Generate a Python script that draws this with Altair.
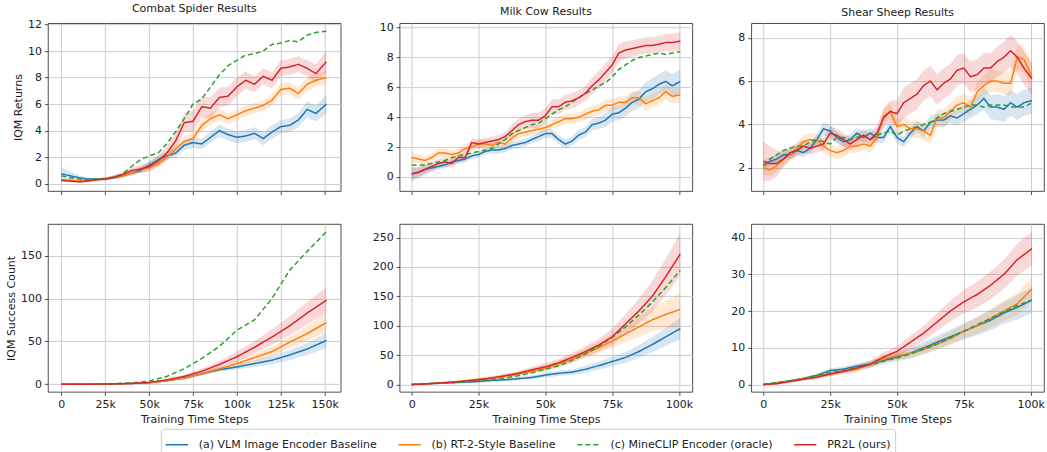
import altair as alt
import pandas as pd

SERIES = ["(a) VLM Image Encoder Baseline", "(b) RT-2-Style Baseline",
          "(c) MineCLIP Encoder (oracle)", "PR2L (ours)"]
COLORS = ["#1f77b4", "#ff7f0e", "#2ca02c", "#d62728"]
DASHES = [[1, 0], [1, 0], [5, 3], [1, 0]]

# ---------------- Combat Spider: returns ----------------
cs_ret_x = [0, 5, 10, 15, 20, 25, 30, 35, 40, 45, 50, 55, 60, 65, 70, 75, 80, 85, 90, 95,
            100, 105, 110, 115, 120, 125, 130, 135, 140, 145, 151]
cs_ret_blue = [0.75, 0.6, 0.45, 0.35, 0.35, 0.35, 0.45, 0.6, 0.8, 1.0, 1.4, 1.8, 2.1, 2.3, 2.9, 3.1,
               3.0, 3.5, 4.0, 3.7, 3.5, 3.6, 3.8, 3.4, 3.9, 4.3, 4.4, 4.8, 5.6, 5.3, 6.0]
cs_ret_orange = [0.3, 0.25, 0.2, 0.25, 0.3, 0.4, 0.5, 0.6, 0.8, 1.1, 1.2, 1.5, 2.0, 2.6, 3.2, 3.4,
                 4.4, 4.9, 5.2, 4.9, 5.2, 5.5, 5.7, 5.9, 6.3, 7.1, 7.2, 6.8, 7.5, 7.8, 8.0]
cs_ret_green = [0.6, 0.45, 0.35, 0.3, 0.35, 0.4, 0.5, 0.75, 1.3, 1.8, 2.1, 2.3, 3.0, 3.9, 4.9, 6.0,
                6.4, 7.3, 8.2, 8.9, 9.3, 9.7, 9.8, 10.0, 10.5, 10.6, 10.8, 10.7, 11.2, 11.4, 11.5]
cs_ret_red = [0.25, 0.2, 0.15, 0.2, 0.3, 0.35, 0.5, 0.7, 1.0, 1.1, 1.3, 1.7, 2.3, 3.2, 4.6, 4.7,
              5.8, 5.7, 6.5, 6.6, 7.3, 7.8, 7.5, 8.1, 7.8, 8.7, 8.8, 9.0, 8.7, 8.3, 9.2]
cs_ret_blue_err = [0.5, 0.35, 0.2, 0.1, 0.1, 0.1, 0.1, 0.15, 0.2, 0.2, 0.3, 0.3, 0.3, 0.35, 0.35, 0.4,
                   0.4, 0.45, 0.45, 0.45, 0.45, 0.45, 0.45, 0.5, 0.5, 0.5, 0.5, 0.55, 0.6, 0.6, 0.7]
cs_ret_orange_err = [0.1, 0.1, 0.1, 0.1, 0.1, 0.1, 0.15, 0.15, 0.2, 0.25, 0.25, 0.3, 0.3, 0.35, 0.4, 0.4,
                     0.45, 0.45, 0.45, 0.4, 0.4, 0.4, 0.4, 0.4, 0.45, 0.45, 0.45, 0.5, 0.5, 0.5, 0.5]
cs_ret_red_err = [0.1, 0.1, 0.1, 0.1, 0.1, 0.1, 0.15, 0.2, 0.25, 0.3, 0.35, 0.4, 0.5, 0.6, 0.7, 0.8,
                  0.8, 0.8, 0.75, 0.7, 0.7, 0.65, 0.6, 0.6, 0.6, 0.6, 0.6, 0.6, 0.6, 0.7, 0.8]

# ---------------- Combat Spider: success count ----------------
cs_cnt_x = [0, 10, 20, 30, 40, 50, 60, 70, 80, 90, 100, 110, 120, 130, 140, 151]
cs_cnt_blue = [0, 0, 0, 0.3, 0.8, 1.5, 4, 7, 12, 17, 20, 24, 28, 34, 41, 51]
cs_cnt_orange = [0, 0, 0, 0.3, 0.8, 1.5, 4, 7, 12, 18, 24, 31, 38, 49, 59, 72]
cs_cnt_green = [0, 0, 0, 0.5, 1.5, 3.5, 9, 18, 30, 44, 63, 75, 100, 133, 155, 178]
cs_cnt_red = [0, 0, 0, 0.3, 0.8, 2, 5, 9, 15, 23, 32, 43, 55, 68, 83, 98]
cs_cnt_blue_err = [0, 0, 0, 0.2, 0.3, 0.5, 1, 1.5, 2, 2.5, 3, 4, 5, 6, 7, 9]
cs_cnt_orange_err = [0, 0, 0, 0.2, 0.3, 0.5, 1, 1.5, 2, 3, 4, 5, 6, 7, 9, 11]
cs_cnt_red_err = [0, 0, 0, 0.2, 0.3, 0.6, 1.2, 2, 3, 4, 6, 7, 9, 11, 13, 15]

# ---------------- Milk Cow: returns ----------------
mc_ret_x = [0, 2.5, 5, 7.5, 10, 12.5, 15, 17.5, 20, 22.5, 25, 27.5, 30, 32.5, 35, 37.5, 40, 42.5,
            45, 47.5, 50, 52.5, 55, 57.5, 60, 62.5, 65, 67.5, 70, 72.5, 75, 77.5, 80, 82.5, 85,
            87.5, 90, 92.5, 95, 97.5, 100.5]
mc_ret_blue = [0.2, 0.3, 0.5, 0.6, 0.7, 0.8, 1.0, 1.1, 1.2, 1.4, 1.5, 1.7, 1.8, 1.8, 1.9, 2.1, 2.2,
               2.3, 2.5, 2.7, 2.9, 2.9, 2.5, 2.2, 2.4, 2.8, 3.0, 3.5, 3.6, 3.8, 4.2, 4.3, 4.6, 5.0,
               5.2, 5.7, 5.9, 6.2, 6.4, 6.1, 6.4]
mc_ret_orange = [1.3, 1.2, 1.1, 1.3, 1.6, 1.6, 1.5, 1.6, 1.9, 2.0, 2.2, 2.2, 2.1, 2.3, 2.2, 2.6, 2.9,
                 3.0, 3.1, 3.2, 3.3, 3.5, 3.7, 3.9, 3.9, 4.0, 4.2, 4.4, 4.5, 4.8, 4.8, 5.0, 5.0,
                 5.3, 5.3, 4.9, 5.1, 5.3, 5.7, 5.4, 5.5]
mc_ret_green = [0.8, 0.8, 0.8, 0.9, 1.0, 1.1, 1.3, 1.4, 1.5, 1.6, 1.7, 1.8, 1.9, 2.2, 2.5, 2.9, 3.1,
                3.3, 3.5, 3.6, 3.9, 4.2, 4.5, 4.7, 5.0, 5.3, 5.6, 5.8, 6.1, 6.3, 6.7, 7.2, 7.5,
                7.8, 8.0, 8.1, 8.2, 8.3, 8.2, 8.3, 8.4]
mc_ret_red = [0.2, 0.3, 0.5, 0.7, 0.9, 1.0, 0.9, 1.3, 1.3, 2.3, 2.2, 2.3, 2.4, 2.5, 2.7, 3.1, 3.5,
              3.7, 3.8, 3.8, 4.1, 4.7, 4.7, 5.0, 5.1, 5.3, 5.6, 6.1, 6.5, 7.0, 7.5, 8.3, 8.5, 8.6,
              8.7, 8.8, 8.8, 8.9, 9.0, 9.0, 9.1]
mc_ret_blue_err = [0.4, 0.3, 0.3, 0.2, 0.2, 0.2, 0.2, 0.2, 0.2, 0.2, 0.2, 0.2, 0.25, 0.25, 0.25, 0.25,
                   0.25, 0.25, 0.25, 0.3, 0.3, 0.3, 0.3, 0.3, 0.3, 0.35, 0.35, 0.4, 0.4, 0.45, 0.5,
                   0.5, 0.55, 0.6, 0.6, 0.65, 0.7, 0.7, 0.75, 0.8, 0.8]
mc_ret_orange_err = [0.35, 0.3, 0.3, 0.3, 0.3, 0.3, 0.3, 0.3, 0.3, 0.3, 0.3, 0.3, 0.3, 0.3, 0.3, 0.3,
                     0.3, 0.3, 0.3, 0.3, 0.3, 0.3, 0.35, 0.35, 0.35, 0.35, 0.35, 0.35, 0.4, 0.4, 0.4,
                     0.4, 0.4, 0.45, 0.45, 0.45, 0.45, 0.45, 0.5, 0.5, 0.5]
mc_ret_red_err = [0.5, 0.4, 0.35, 0.3, 0.3, 0.3, 0.3, 0.3, 0.3, 0.3, 0.3, 0.3, 0.3, 0.3, 0.3, 0.4,
                  0.4, 0.45, 0.5, 0.5, 0.5, 0.5, 0.5, 0.5, 0.5, 0.5, 0.5, 0.55, 0.6, 0.6, 0.6, 0.6,
                  0.55, 0.55, 0.55, 0.55, 0.55, 0.55, 0.6, 0.6, 0.6]

# ---------------- Milk Cow: success count ----------------
mc_cnt_x = [0, 5, 10, 15, 20, 25, 30, 35, 40, 45, 50, 55, 60, 65, 70, 75, 80, 85, 90, 95, 100.5]
mc_cnt_blue = [0, 1, 2, 3, 4, 5, 7, 8, 10, 12, 16, 19, 21, 26, 32, 39, 46, 56, 68, 81, 95]
mc_cnt_orange = [0, 1, 2.5, 4, 6, 9, 11, 14, 18, 23, 28, 35, 43, 53, 63, 74, 86, 98, 110, 119, 128]
mc_cnt_green = [0, 1, 2, 3, 4.5, 6, 8, 11, 15, 20, 26, 32, 41, 52, 65, 80, 98, 118, 140, 165, 194]
mc_cnt_red = [0, 1, 2.5, 4, 6, 8, 11, 15, 19, 25, 30, 37, 46, 56, 67, 81, 103, 125, 150, 183, 222]
mc_cnt_blue_err = [0, 0.5, 1, 1, 1.5, 2, 2, 2.5, 3, 3.5, 4, 4.5, 5, 6, 7, 8, 9, 11, 13, 15, 18]
mc_cnt_orange_err = [0, 0.5, 1, 1.5, 2, 2, 3, 3, 4, 4.5, 5, 6, 7, 8, 10, 12, 14, 17, 20, 24, 28]
mc_cnt_red_err = [0, 0.5, 1, 1.5, 2, 2.5, 3, 3.5, 4, 5, 6, 7, 8, 9, 11, 14, 17, 21, 26, 31, 36]

# ---------------- Shear Sheep: returns ----------------
ss_ret_x = mc_ret_x
ss_ret_blue = [2.1, 2.3, 2.4, 2.6, 2.6, 2.8, 2.7, 2.9, 3.3, 3.8, 3.7, 3.4, 3.2, 3.3, 3.6, 3.4, 3.6,
               3.4, 3.4, 3.9, 3.4, 3.2, 3.6, 3.9, 3.7, 4.1, 4.2, 4.2, 4.4, 4.3, 4.5, 4.7, 4.9, 5.2,
               4.8, 4.8, 4.7, 5.0, 4.8, 5.0, 5.1]
ss_ret_orange = [2.0, 1.9, 2.1, 2.4, 2.6, 2.9, 3.2, 3.3, 3.3, 3.0, 2.8, 2.7, 2.8, 3.0, 3.0, 3.1, 3.0,
                 3.4, 4.4, 4.6, 3.9, 4.0, 3.8, 3.8, 3.7, 3.5, 4.3, 4.3, 4.6, 4.9, 5.0, 4.8, 5.5,
                 5.8, 6.0, 6.0, 5.9, 5.9, 7.1, 7.0, 6.2]
ss_ret_green = [2.1, 2.4, 2.6, 2.8, 2.9, 3.0, 3.0, 3.2, 3.3, 3.2, 3.1, 3.4, 3.4, 3.3, 3.4, 3.5, 3.3,
                3.5, 3.6, 3.7, 3.5, 3.7, 3.8, 3.9, 4.0, 4.1, 4.3, 4.5, 4.6, 4.7, 4.8, 4.9, 4.9,
                4.8, 4.9, 4.9, 4.9, 4.8, 4.8, 4.8, 5.0]
ss_ret_red = [2.3, 2.2, 2.2, 2.4, 2.7, 2.8, 3.0, 2.9, 3.0, 3.1, 3.6, 3.5, 3.3, 3.1, 3.3, 3.5, 3.3,
              3.6, 4.3, 4.6, 4.5, 5.0, 5.2, 5.4, 5.8, 6.0, 5.6, 5.9, 6.1, 6.5, 6.6, 6.2, 6.3, 6.6,
              6.6, 6.9, 7.1, 7.4, 7.1, 6.6, 6.1]
ss_ret_blue_err = [0.2, 0.2, 0.2, 0.2, 0.2, 0.2, 0.2, 0.2, 0.25, 0.3, 0.3, 0.25, 0.25, 0.25, 0.25, 0.25,
                   0.25, 0.25, 0.25, 0.25, 0.25, 0.25, 0.25, 0.25, 0.3, 0.3, 0.3, 0.3, 0.35, 0.35,
                   0.4, 0.4, 0.45, 0.5, 0.55, 0.6, 0.6, 0.6, 0.6, 0.6, 0.6]
ss_ret_orange_err = [0.3, 0.3, 0.3, 0.3, 0.3, 0.3, 0.3, 0.3, 0.3, 0.3, 0.3, 0.3, 0.3, 0.3, 0.3, 0.3,
                     0.3, 0.3, 0.35, 0.35, 0.35, 0.35, 0.35, 0.4, 0.4, 0.4, 0.4, 0.4, 0.4, 0.4, 0.4,
                     0.4, 0.45, 0.45, 0.5, 0.5, 0.5, 0.55, 0.6, 0.6, 0.6]
ss_ret_red_err = [0.9, 0.8, 0.6, 0.4, 0.3, 0.3, 0.3, 0.3, 0.3, 0.3, 0.3, 0.3, 0.3, 0.3, 0.3, 0.3,
                  0.3, 0.35, 0.4, 0.5, 0.6, 0.7, 0.7, 0.7, 0.7, 0.7, 0.7, 0.7, 0.7, 0.7, 0.7, 0.7,
                  0.7, 0.7, 0.7, 0.7, 0.7, 0.75, 0.75, 0.75, 0.75]

# ---------------- Shear Sheep: success count ----------------
ss_cnt_x = mc_cnt_x
ss_cnt_blue = [0, 0.5, 1, 1.6, 2.5, 3.8, 4.2, 5, 5.6, 6.5, 7.5, 8.5, 10, 11.5, 13, 14.5, 16, 17.5, 19.5, 21, 23]
ss_cnt_orange = [0, 0.4, 1, 1.6, 2, 3, 3.5, 4.2, 5.5, 7, 7.8, 8.5, 9.5, 11, 12.5, 14.5, 16, 18, 20, 22, 26]
ss_cnt_green = [0, 0.5, 1, 1.6, 2.5, 3.2, 3.8, 4.5, 5.4, 6.3, 7.2, 8.3, 9.6, 11, 12.7, 14.5, 16.3, 18, 19.8, 21.5, 23]
ss_cnt_red = [0, 0.2, 0.8, 1.4, 2, 2.8, 3.6, 4.5, 5.5, 7.5, 9, 11.5, 14, 17, 20, 22.5, 24.5, 27, 30, 34, 37]
ss_cnt_blue_err = [0, 0.2, 0.3, 0.4, 0.5, 0.6, 0.7, 0.8, 0.9, 1, 1.2, 1.4, 1.6, 1.8, 2, 2.2, 2.5, 2.8, 3, 3.3, 3.6]
ss_cnt_orange_err = [0, 0.2, 0.3, 0.4, 0.5, 0.6, 0.7, 0.8, 0.9, 1, 1.1, 1.2, 1.4, 1.6, 1.8, 2, 2.2, 2.5, 2.8, 3, 3.2]
ss_cnt_red_err = [0, 0.2, 0.3, 0.4, 0.5, 0.6, 0.7, 0.8, 1, 1.2, 1.5, 1.8, 2, 2.4, 2.8, 3.2, 3.5, 3.8, 4, 4.3, 4.6]

W, H = 293, 168
FONT = "DejaVu Sans"


def make_df(xs, ys_list, errs_list):
    rows = []
    for s, ys, errs in zip(SERIES, ys_list, errs_list):
        for i, (x, y) in enumerate(zip(xs, ys)):
            e = errs[i] if errs is not None else 0
            rows.append({"x": x, "y": y, "lo": y - e, "hi": y + e, "series": s,
                         "band": errs is not None})
    return pd.DataFrame(rows)


def panel(xs, ys_list, errs_list, xdom, xticks, ydom, yticks, title=None,
          ytitle=None, bottom=False):
    df = make_df(xs, ys_list, errs_list)
    xaxis = alt.Axis(values=xticks, labels=bottom,
                     labelExpr="datum.value == 0 ? '0' : datum.value + 'k'",
                     title="Training Time Steps" if bottom else None)
    xenc = alt.X("x:Q", scale=alt.Scale(domain=xdom, nice=False, zero=False), axis=xaxis)
    yscale = alt.Scale(domain=ydom, nice=False, zero=False)
    yaxis = alt.Axis(values=yticks, title=ytitle)
    base = alt.Chart(df)
    band = base.transform_filter("datum.band").mark_area(opacity=0.18, clip=True).encode(
        x=xenc,
        y=alt.Y("lo:Q", scale=yscale, axis=yaxis),
        y2="hi:Q",
        fill=alt.Fill("series:N", scale=alt.Scale(domain=SERIES, range=COLORS), legend=None),
    )
    lines = base.mark_line(strokeWidth=1.5, clip=True).encode(
        x=xenc,
        y=alt.Y("y:Q", scale=yscale, axis=yaxis),
        color=alt.Color("series:N", scale=alt.Scale(domain=SERIES, range=COLORS),
                        legend=alt.Legend(title=None)),
        strokeDash=alt.StrokeDash("series:N", scale=alt.Scale(domain=SERIES, range=DASHES),
                                  legend=alt.Legend(title=None)),
    )
    props = {"width": W, "height": H}
    if title:
        props["title"] = alt.TitleParams(title, fontSize=11, font=FONT, fontWeight="normal",
                                         offset=5, color="#222")
    return alt.layer(band, lines).properties(**props)


cs_top = panel(cs_ret_x, [cs_ret_blue, cs_ret_orange, cs_ret_green, cs_ret_red],
               [cs_ret_blue_err, cs_ret_orange_err, None, cs_ret_red_err],
               [-7.6, 159.1], [0, 25, 50, 75, 100, 125, 150], [-0.55, 12.1],
               [0, 2, 4, 6, 8, 10, 12], title="Combat Spider Results", ytitle="IQM Returns")
mc_top = panel(mc_ret_x, [mc_ret_blue, mc_ret_orange, mc_ret_green, mc_ret_red],
               [mc_ret_blue_err, mc_ret_orange_err, None, mc_ret_red_err],
               [-4.5, 105.0], [0, 25, 50, 75, 100], [-0.95, 10.3],
               [0, 2, 4, 6, 8, 10], title="Milk Cow Results")
ss_top = panel(ss_ret_x, [ss_ret_blue, ss_ret_orange, ss_ret_green, ss_ret_red],
               [ss_ret_blue_err, ss_ret_orange_err, None, ss_ret_red_err],
               [-4.5, 105.0], [0, 25, 50, 75, 100], [0.93, 8.67],
               [2, 4, 6, 8], title="Shear Sheep Results")
cs_bot = panel(cs_cnt_x, [cs_cnt_blue, cs_cnt_orange, cs_cnt_green, cs_cnt_red],
               [cs_cnt_blue_err, cs_cnt_orange_err, None, cs_cnt_red_err],
               [-7.6, 159.1], [0, 25, 50, 75, 100, 125, 150], [-9, 187],
               [0, 50, 100, 150], ytitle="IQM Success Count", bottom=True)
mc_bot = panel(mc_cnt_x, [mc_cnt_blue, mc_cnt_orange, mc_cnt_green, mc_cnt_red],
               [mc_cnt_blue_err, mc_cnt_orange_err, None, mc_cnt_red_err],
               [-4.5, 105.0], [0, 25, 50, 75, 100], [-12.5, 273],
               [0, 50, 100, 150, 200, 250], bottom=True)
ss_bot = panel(ss_cnt_x, [ss_cnt_blue, ss_cnt_orange, ss_cnt_green, ss_cnt_red],
               [ss_cnt_blue_err, ss_cnt_orange_err, None, ss_cnt_red_err],
               [-4.5, 105.0], [0, 25, 50, 75, 100], [-2.0, 43.7],
               [0, 10, 20, 30, 40], bottom=True)

chart = alt.concat(cs_top, mc_top, ss_top, cs_bot, mc_bot, ss_bot, columns=3,
                   spacing={"row": 33, "column": 59}, bounds="flush").resolve_scale(
    x="independent", y="independent", color="shared", strokeDash="shared", fill="independent"
).properties(
    padding={"left": 5, "top": 1, "right": 2, "bottom": 0}
).configure_view(
    stroke="#222", strokeWidth=0.8
).configure_axis(
    labelFont=FONT, titleFont=FONT, labelFontSize=11, titleFontSize=11,
    labelColor="#222", titleColor="#222", titleFontWeight="normal",
    tickColor="#222", tickSize=3.5, tickWidth=0.8, labelPadding=3,
    domain=False, grid=True, gridColor="#cccccc", gridWidth=1,
).configure_legend(
    orient="none", legendX=113, legendY=406, direction="horizontal", columns=4,
    labelFont=FONT, labelFontSize=11, labelColor="#222", symbolType="stroke",
    symbolStrokeWidth=1.5, symbolSize=500, columnPadding=17, labelOffset=10,
    strokeColor="#cccccc", padding=4, cornerRadius=3, fillColor="white", labelLimit=300,
)

chart.save("out.html", embed_options={"renderer": "svg", "actions": False})
